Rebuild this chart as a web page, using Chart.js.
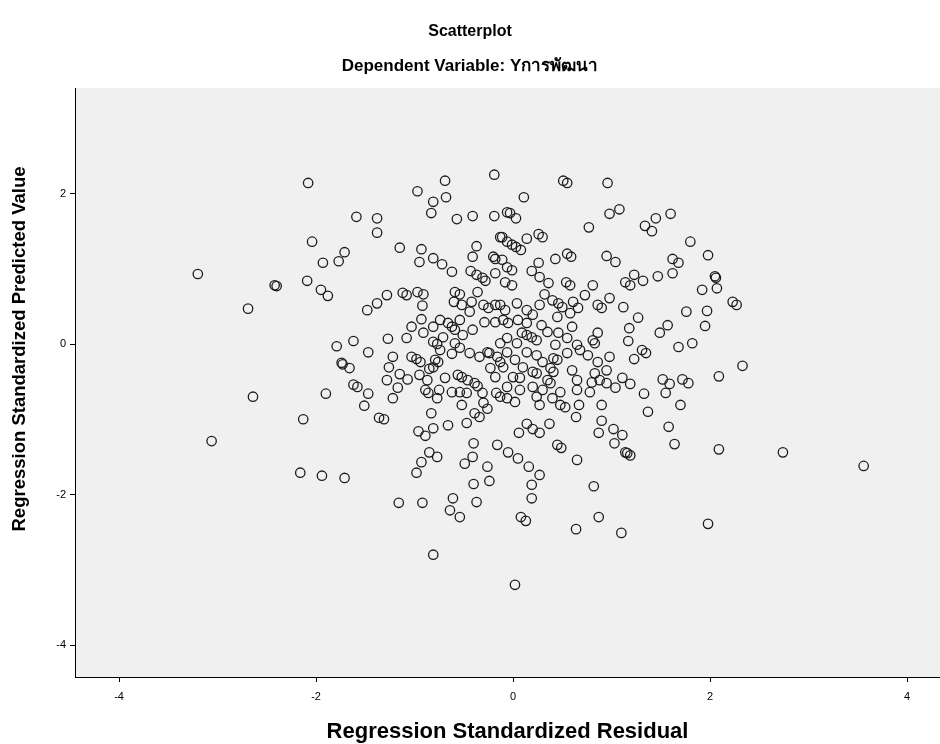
<!DOCTYPE html>
<html><head><meta charset="utf-8">
<script src="https://cdn.jsdelivr.net/npm/chart.js@4.4.1/dist/chart.umd.min.js"></script>
<style>html,body{margin:0;padding:0;background:#fff}#wrap{width:940px;height:744px;position:relative}</style>
</head><body><div id="wrap"><canvas id="c" width="940" height="744"></canvas></div>
<script>
const chartTitle = 'Scatterplot';
const chartSubtitle = 'Dependent Variable: Yการพัฒนา';
const xAxisTitle = 'Regression Standardized Residual';
const yAxisTitle = 'Regression Standardized Predicted Value';
const xTicks = [-4, -2, 0, 2, 4];
const yTicks = [-4, -2, 0, 2];

const residual = [
-2.08,-1.59,-1.38,-1.38,-2.04,-1.71,-1.77,-1.93,-3.20,-2.42,-2.40,-2.09,-1.95,
-0.19,-0.69,-0.97,-0.68,-0.81,-0.83,-0.57,-0.41,-0.19,
-1.15,-0.93,-0.95,-0.81,-0.72,-0.62,-0.37,-0.41,-0.20,-0.18,-0.13,-0.43,-0.37,-0.31,-0.28,-0.18,
0.51,0.55,0.96,0.11,-0.06,-0.03,0.03,0.98,1.08,0.77,0.26,0.30,0.14,-0.11,-0.06,-0.01,0.03,0.08,0.43,0.55,0.59,0.95,1.04,0.26,0.19,0.27,0.36,0.54,0.58,0.81,-0.11,-0.06,-0.01,-0.08,-0.01,
1.34,1.41,1.45,1.60,1.80,1.98,1.62,1.68,1.62,1.47,1.23,1.32,1.14,1.19,2.05,2.06,2.07,1.92,
-2.69,-1.48,-1.38,-1.88,-1.79,-1.62,-1.47,-1.74,-1.73,-1.66,-1.62,-1.58,-1.47,-1.90,-2.64,
-1.28,-1.12,-1.08,-0.97,-0.91,-0.59,-0.54,-0.36,
-0.92,-0.60,-0.52,-0.42,-0.30,-0.25,-0.18,-0.44,
-0.93,-1.03,-0.91,-0.81,-0.74,-0.66,-0.62,-0.54,-0.59,-0.51,-0.41,-0.29,-0.18,
-1.27,-1.08,-0.81,-0.77,-0.71,-0.59,-0.54,-0.44,-0.62,-0.26,-0.24,-0.74,
-1.22,-1.03,-0.98,-0.94,-0.79,-0.34,-0.16,
-1.26,-1.15,-0.85,-0.81,-0.76,-0.69,-0.56,-0.52,-0.46,-0.39,-0.36,-0.23,-0.18,
-1.28,-1.07,-0.95,-0.87,-1.17,-0.89,-0.86,-0.75,-0.62,-0.54,-0.47,-0.31,-0.17,-1.22,-0.77,
0.32,0.40,0.46,0.50,0.73,0.61,0.58,0.66,0.98,0.86,0.90,
-0.13,-0.08,0.04,0.14,0.20,0.27,0.45,
-0.10,-0.05,0.05,0.14,0.29,0.60,0.46,0.35,0.09,0.14,0.19,0.24,
-0.06,-0.13,0.04,0.43,0.55,0.65,0.81,0.86,0.83,0.68,0.76,0.98,0.86,
-0.06,0.02,0.14,0.24,0.30,0.41,0.55,
-0.13,-0.10,0.10,0.20,0.24,0.38,0.41,0.45,0.60,0.83,0.95,
0.00,0.07,0.35,0.38,0.65,0.80,0.88,0.95,
-0.06,0.07,0.20,0.30,0.48,0.65,0.78,1.04,
-0.13,-0.06,0.24,0.40,
2.23,2.27,1.12,1.27,1.18,1.76,1.97,1.57,1.49,1.95,1.17,1.68,1.82,1.31,1.35,1.23,2.33,2.09,1.11,1.19,1.52,1.59,1.72,1.78,1.33,1.55,
-3.06,-2.13,-1.51,-1.36,-2.16,-1.94,-1.71,
-1.31,-0.83,-0.96,-0.89,-0.81,-0.66,-0.52,-0.47,-0.39,-0.34,-0.26,-0.30,-0.40,-0.16,-0.85,-0.77,-0.93,-0.98,-0.49,-0.41,-0.26,-0.40,-0.24,-1.16,-0.92,-0.61,-0.64,-0.54,-0.37,-0.81,
0.02,0.27,0.48,0.53,0.67,0.90,0.64,0.90,0.87,1.02,1.03,0.37,0.14,0.20,0.27,0.06,-0.05,0.05,0.45,0.49,0.65,0.16,0.27,0.19,0.19,0.82,0.08,0.13,0.64,0.87,1.10,0.02,
1.70,1.37,1.58,1.11,1.14,1.16,1.19,1.64,2.09,2.74,3.56,1.98
];

const predicted = [
2.14,1.69,1.67,1.48,1.36,1.22,1.10,1.08,0.93,0.78,0.77,0.84,0.72,
2.25,2.17,2.03,1.95,1.89,1.74,1.66,1.70,1.70,
1.28,1.26,1.09,1.14,1.06,0.96,1.30,1.16,1.16,1.13,1.42,0.97,0.92,0.88,0.84,0.94,
2.17,2.14,2.14,1.95,1.75,1.74,1.67,1.73,1.79,1.55,1.46,1.42,1.40,1.42,1.36,1.32,1.29,1.25,1.13,1.20,1.16,1.17,1.09,1.08,0.97,0.89,0.81,0.82,0.78,0.78,1.12,1.02,0.98,0.82,0.78,
1.57,1.50,1.67,1.73,1.36,1.18,1.13,1.08,0.94,0.90,0.92,0.84,0.82,0.78,0.90,0.88,0.74,0.72,
0.47,0.45,0.54,0.64,-0.03,0.04,-0.11,-0.25,-0.27,-0.32,-0.54,-0.57,-0.66,-0.66,-0.70,
0.65,0.68,0.65,0.69,0.66,0.69,0.66,0.69,
0.51,0.56,0.52,0.56,0.52,0.48,0.52,0.43,
0.33,0.23,0.15,0.23,0.32,0.28,0.23,0.32,0.19,0.12,0.19,0.29,0.29,
0.07,0.08,0.03,0.00,0.09,0.01,-0.05,-0.12,-0.13,-0.11,-0.12,-0.08,
-0.17,-0.17,-0.20,-0.24,-0.21,-0.17,-0.17,
-0.31,-0.40,-0.33,-0.31,-0.24,-0.45,-0.41,-0.44,-0.48,-0.52,-0.56,-0.32,-0.44,
-0.48,-0.47,-0.41,-0.48,-0.58,-0.61,-0.65,-0.61,-0.64,-0.64,-0.65,-0.65,-0.65,-0.72,-0.72,
0.66,0.58,0.54,0.49,0.65,0.56,0.41,0.48,0.61,0.52,0.48,
0.52,0.45,0.54,0.45,0.39,0.52,0.36,
0.32,0.28,0.32,0.28,0.25,0.23,0.15,0.16,0.15,0.12,0.09,0.05,
0.08,0.01,0.01,-0.01,0.08,-0.01,0.05,0.15,0.01,-0.08,-0.15,-0.17,-0.24,
-0.11,-0.21,-0.11,-0.15,-0.24,-0.19,-0.12,
-0.24,-0.31,-0.31,-0.37,-0.39,-0.32,-0.37,-0.21,-0.35,-0.39,-0.35,
-0.44,-0.45,-0.48,-0.52,-0.48,-0.51,-0.48,-0.52,
-0.57,-0.61,-0.57,-0.61,-0.64,-0.61,-0.64,-0.58,
-0.70,-0.72,-0.70,-0.72,
0.56,0.52,0.49,0.35,0.21,0.43,0.44,0.25,0.15,0.24,0.04,-0.04,0.01,-0.08,-0.12,-0.20,-0.29,-0.43,-0.45,-0.53,-0.47,-0.53,-0.47,-0.52,-0.66,-0.65,
-1.29,-1.00,-0.82,-0.98,-1.71,-1.75,-1.78,
-1.00,-0.92,-1.16,-1.22,-1.12,-1.08,-0.81,-1.05,-0.92,-0.97,-0.86,-0.78,-1.32,-1.34,-1.44,-1.50,-1.57,-1.71,-1.59,-1.50,-1.63,-1.86,-1.82,-2.11,-2.11,-2.05,-2.21,-2.30,-2.10,-2.80,
-0.77,-0.81,-0.81,-0.84,-0.81,-0.81,-0.97,-1.02,-1.18,-1.13,-1.32,-1.06,-1.06,-1.13,-1.18,-1.18,-1.44,-1.52,-1.34,-1.38,-1.54,-1.63,-1.74,-1.87,-2.05,-1.89,-2.30,-2.35,-2.46,-2.30,-2.51,-3.20,
-0.81,-0.90,-1.10,-1.21,-1.44,-1.45,-1.48,-1.33,-1.40,-1.44,-1.62,-2.39
];

const FONT = "Arial, 'Liberation Sans', 'DejaVu Sans', sans-serif";
const n = Math.min(residual.length, predicted.length);
const points = [];
for (let i = 0; i < n; i++) points.push({x: residual[i], y: predicted[i]});

const plotBg = {
  id: 'plotBg',
  beforeDraw(chart) {
    const {ctx, chartArea: a} = chart;
    ctx.save();
    ctx.fillStyle = '#f0f0f0';
    ctx.fillRect(a.left, a.top, a.right - a.left, a.bottom - a.top);
    ctx.restore();
  }
};

const yTitle = {
  id: 'yTitle',
  afterDraw(chart) {
    const ctx = chart.ctx;
    ctx.save();
    ctx.translate(20, 349);
    ctx.rotate(-Math.PI / 2);
    ctx.font = 'bold 18.5px ' + FONT;
    ctx.fillStyle = '#000';
    ctx.textAlign = 'center';
    ctx.textBaseline = 'middle';
    ctx.fillText(yAxisTitle, 0, 0);
    ctx.restore();
  }
};

new Chart(document.getElementById('c'), {
  type: 'scatter',
  data: {
    datasets: [{
      data: points,
      pointStyle: 'circle',
      pointRadius: 4.7,
      pointBorderWidth: 1.3,
      borderColor: '#1c1c1c',
      backgroundColor: 'rgba(0,0,0,0)',
      pointHoverRadius: 4.7
    }]
  },
  options: {
    responsive: false,
    animation: false,
    devicePixelRatio: 1,
    events: [],
    layout: {padding: 0, autoPadding: false},
    plugins: {
      legend: {display: false},
      tooltip: {enabled: false},
      title: {
        display: true, text: chartTitle, color: '#000',
        font: {family: FONT, size: 16, weight: 'bold'},
        padding: {top: 22, bottom: 6}
      },
      subtitle: {
        display: true, text: chartSubtitle, color: '#000',
        font: {family: FONT, size: 17, weight: 'bold'},
        padding: {top: 9.4, bottom: 11}
      }
    },
    scales: {
      x: {
        type: 'linear', position: 'bottom',
        min: -4.447, max: 4.335,
        afterBuildTicks(s) { s.ticks = xTicks.map(v => ({value: v})); },
        afterFit(s) { s.height = 67; s.paddingLeft = 0; s.paddingRight = 0; },
        ticks: {color: '#000', font: {family: FONT, size: 11}, padding: 8, maxRotation: 0, autoSkip: false},
        grid: {drawOnChartArea: false, drawTicks: true, tickLength: 5, color: '#000', lineWidth: 1},
        border: {display: true, color: '#000', width: 1},
        title: {display: true, text: xAxisTitle, color: '#000',
          font: {family: FONT, size: 22, weight: 'bold'}, padding: {top: 0, bottom: -1}}
      },
      y: {
        type: 'linear', position: 'left',
        min: -4.425, max: 3.402,
        afterBuildTicks(s) { s.ticks = yTicks.map(v => ({value: v})); },
        afterFit(s) { s.width = 75; s.paddingTop = 0; s.paddingBottom = 0; },
        ticks: {color: '#000', font: {family: FONT, size: 11}, padding: 4, autoSkip: false},
        grid: {drawOnChartArea: false, drawTicks: true, tickLength: 5, color: '#000', lineWidth: 1},
        border: {display: true, color: '#000', width: 1},
        title: {display: false, text: yAxisTitle}
      }
    }
  },
  plugins: [plotBg, yTitle]
});
</script>
</body></html>
